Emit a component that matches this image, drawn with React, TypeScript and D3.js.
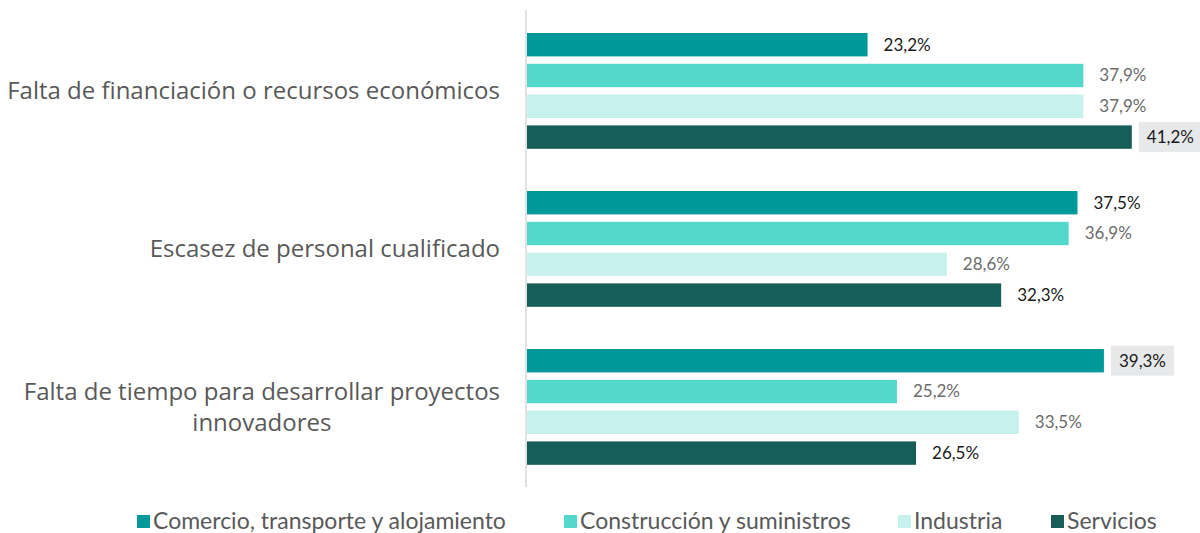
import React from "react";
import * as d3 from "d3";

const categories = [
  ["Falta de financiación o recursos económicos"],
  ["Escasez de personal cualificado"],
  ["Falta de tiempo para desarrollar proyectos", "innovadores"],
];
const seriesNames = [
  "Comercio, transporte y alojamiento",
  "Construcción y suministros",
  "Industria",
  "Servicios",
];
const comercio = [23.2, 37.5, 39.3];
const construccion = [37.9, 36.9, 25.2];
const industria = [37.9, 28.6, 33.5];
const servicios = [41.2, 32.3, 26.5];
const seriesValues = [comercio, construccion, industria, servicios];
const colors = ["#009999", "#55D8CC", "#C6F1EC", "#175E58"];
const labelColors = ["#1a1a1a", "#6b6b6b", "#6b6b6b", "#1a1a1a"];
const highlighted: [number, number][] = [
  [3, 0],
  [0, 2],
];

const CAT_FONT = "24px 'Open Sans'";
function measure(text: string): number {
  const c = document.createElement("canvas").getContext("2d");
  if (!c) return text.length * 11;
  c.font = CAT_FONT;
  return c.measureText(text).width;
}

export default function App() {
  const W = 1200;
  const H = 533;
  const x0 = 527;
  const x = d3.scaleLinear().domain([0, 10]).range([x0, x0 + 146.8]);
  const yGroup = d3
    .scaleBand<number>()
    .domain([0, 1, 2])
    .range([12, 486])
    .paddingInner(0)
    .paddingOuter(0);
  const step = 30.8;
  const ySeries = d3
    .scaleBand<number>()
    .domain([0, 1, 2, 3])
    .range([21, 21 + step * (4 - 0.24)])
    .paddingInner(0.24)
    .paddingOuter(0);
  const fmt = (v: number) => v.toFixed(1).replace(".", ",") + "%";
  const legendX = [137, 564, 898, 1051];
  const isHi = (s: number, c: number) => highlighted.some(([a, b]) => a === s && b === c);

  return (
    <svg width={W} height={H} style={{ display: "block", position: "absolute", left: 0, top: 0 }}>
      <rect width={W} height={H} fill="#fff" />
      <line x1={x0 - 1} x2={x0 - 1} y1={10} y2={487} stroke="#d9d9d9" strokeWidth={1.5} />
      {categories.map((lines, c) => {
        const cy = (yGroup(c) as number) + yGroup.bandwidth() / 2;
        const lh = 31;
        const maxW = Math.max(...lines.map(measure));
        const cx = 500 - maxW / 2;
        return (
          <text
            key={"c" + c}
            textAnchor="middle"
            fontFamily="'Open Sans', sans-serif"
            fontSize={24}
            fill="#595959"
          >
            {lines.map((l, i) => (
              <tspan key={i} x={cx} y={cy - ((lines.length - 1) * lh) / 2 + i * lh} dy="0.35em">
                {l}
              </tspan>
            ))}
          </text>
        );
      })}
      {seriesValues.map((vals, s) =>
        vals.map((v, c) => {
          const y = (yGroup(c) as number) + (ySeries(s) as number);
          const h = ySeries.bandwidth();
          const xe = x(v);
          const hi = isHi(s, c);
          return (
            <g key={s + "-" + c}>
              <rect x={x0} y={y} width={xe - x0} height={h} fill={colors[s]} />
              {hi && <rect x={xe + 7} y={y + h / 2 - 15} width={63} height={30} fill="#E7E8EA" />}
              <text
                x={xe + (hi ? 15 : 16)}
                y={y + h / 2}
                dy="0.35em"
                fontFamily="Lato, sans-serif"
                fontSize={17}
                fill={labelColors[s]}
              >
                {fmt(v)}
              </text>
            </g>
          );
        })
      )}
      {seriesNames.map((n, s) => (
        <g key={"l" + s}>
          <rect x={legendX[s]} y={515} width={13} height={13} fill={colors[s]} />
          <text
            x={legendX[s] + 16}
            y={521}
            dy="0.35em"
            fontFamily="Lato, sans-serif"
            fontSize={23}
            fill="#595959"
          >
            {n}
          </text>
        </g>
      ))}
    </svg>
  );
}
